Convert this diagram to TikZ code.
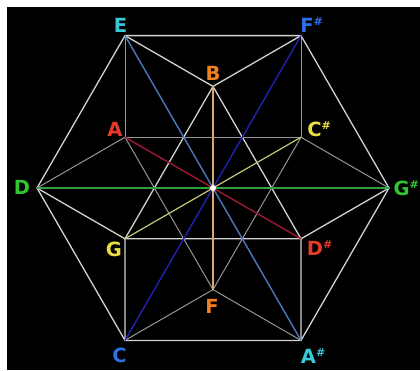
\documentclass[tikz,border=0pt]{standalone}
\usepackage{fontspec}
\setmainfont{DejaVu Sans}
\definecolor{lcyan}{HTML}{38C8D8}
\definecolor{lblue}{HTML}{2F6FE8}
\definecolor{lorange}{HTML}{F08020}
\definecolor{lred}{HTML}{E83A2A}
\definecolor{lyellow}{HTML}{E8E040}
\definecolor{lgreen}{HTML}{30C830}
\definecolor{bright}{HTML}{D2D2D2}
\definecolor{dim}{HTML}{959595}
\newcommand{\sh}{\makebox[0pt][l]{\smash{\raisebox{0.36em}{\fontsize{11}{11}\selectfont\#}}}}
\tikzset{
  lab/.style={font=\fontsize{19.5}{19.5}\selectfont\bfseries, inner sep=0pt, anchor=center},
  brightline/.style={draw=bright, line width=1.3pt},
  dimline/.style={draw=dim, line width=1pt},
  diag/.style={line width=1.4pt},
}
\begin{document}
\begin{tikzpicture}[x=1pt,y=-1pt]
\useasboundingbox (0,0) rectangle (420,370);
\fill[white] (0,0) rectangle (420,370);
\fill[black] (7,7) rectangle (420,370);
% vertices
\coordinate (O) at (213,188);
\coordinate (E) at (125,35.6);
\coordinate (Fs) at (301,35.6);
\coordinate (Gs) at (389,188);
\coordinate (As) at (301,340.4);
\coordinate (C) at (125,340.4);
\coordinate (D) at (37,188);
\coordinate (B) at (213,86.4);
\coordinate (Cs) at (301,137.2);
\coordinate (Ds) at (301,238.8);
\coordinate (F) at (213,289.6);
\coordinate (G) at (125,238.8);
\coordinate (A) at (125,137.2);
% dim lines
\draw[dimline] (E) -- (A);
\draw[dimline] (Fs) -- (Cs);
\draw[dimline] (A) -- (Cs);
\draw[dimline] (D) -- (A);
\draw[dimline] (Gs) -- (Cs);
\draw[dimline] (A) -- (F);
\draw[dimline] (Cs) -- (F);
\draw[dimline] (C) -- (F);
\draw[dimline] (F) -- (As);
% bright lines
\draw[brightline] (E) -- (Fs) -- (Gs) -- (As) -- (C) -- (D) -- cycle;
\draw[brightline] (E) -- (B) -- (Fs);
\draw[brightline] (B) -- (G) -- (Ds) -- cycle;
\draw[brightline] (D) -- (G) -- (C);
\draw[brightline] (Gs) -- (Ds) -- (As);
% diagonals
\draw[diag, draw={rgb,255:red,74;green,120;blue,192}] (E) -- (As);
\draw[diag, draw={rgb,255:red,34;green,34;blue,176}] (Fs) -- (C);
\draw[diag, draw={rgb,255:red,160;green,24;blue,48}] (A) -- (Ds);
\draw[diag, draw={rgb,255:red,200;green,200;blue,120}, line width=1.2pt] (G) -- (Cs);
\draw[diag, draw={rgb,255:red,224;green,165;blue,110}, line width=1.1pt] (B) -- (F);
\draw[diag, draw={rgb,255:red,48;green,160;blue,64}] (D) -- (Gs);
\fill[white] (O) circle (3);
% labels
\node[lab, text=lcyan] (lE) at (120.5,25.5) {E};
\node[lab, text=lblue] (lFs) at (307,25.5) {F\sh};
\node[lab, text=lorange] (lB) at (213,73.5) {B};
\node[lab, text=lred] (lA) at (115,129.5) {A};
\node[lab, text=lyellow] (lCs) at (314.5,129.5) {C\sh};
\node[lab, text=lgreen] (lD) at (22,187.5) {D};
\node[lab, text=lgreen] (lGs) at (401.5,188.5) {G\sh};
\node[lab, text=lyellow] (lG) at (114,249.5) {G};
\node[lab, text=lred] (lDs) at (315,248.5) {D\sh};
\node[lab, text=lorange] (lF) at (212,306.5) {F};
\node[lab, text=lblue] (lC) at (119.5,355.5) {C};
\node[lab, text=lcyan] (lAs) at (308.5,356.5) {A\sh};
\end{tikzpicture}
\end{document}
